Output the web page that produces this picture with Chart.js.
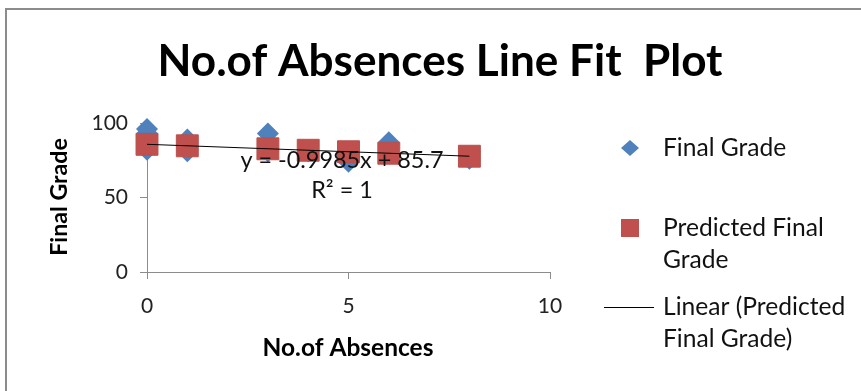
<!DOCTYPE html>
<html>
<head>
<meta charset="utf-8">
<script src="https://cdn.jsdelivr.net/npm/chart.js@4"></script>
<style>
  html, body { margin: 0; padding: 0; background: #fff; }
  #wrap { width: 861px; height: 391px; position: relative; }
</style>
</head>
<body>
<div id="wrap"><canvas id="fitPlot" width="861" height="391"></canvas></div>
<script>
  // 원본 데이터 (결석 횟수 / 최종 점수)
  const absences = [0, 0, 0, 1, 1, 3, 3, 4, 5, 6, 8];
  const finalGrades = [96, 93, 82, 89, 81, 93, 81, 81, 74, 87, 76];
  // 예측 점수
  const predAbsences = [0, 1, 3, 4, 5, 6, 8];
  const predGrades = [85.7, 84.7, 82.7, 81.7, 80.7, 79.7, 77.7];
  // 추세선 (y = slope * x + intercept)
  const slope = -0.9985;
  const intercept = 85.7;
  const trendRange = [0, 8];

  const xTicks = [0, 5, 10];
  const yTicks = [0, 50, 100];

  const FONT = 'Lato, "Open Sans", sans-serif';
  const BLUE = '#4F81BD';
  const RED = '#C0504D';

  // 글자 폭에 맞는 폰트 크기
  function fitFont(c, text, width, weight) {
    c.font = weight + ' 20px ' + FONT;
    const size = (20 * width) / c.measureText(text).width;
    c.font = weight + ' ' + size.toFixed(1) + 'px ' + FONT;
  }

  // ------------------ 제목 / 축 제목 / 범례 ------------------
  const decorPlugin = {
    id: 'decor',
    beforeDraw(chart) {
      const c = chart.ctx;
      c.save();
      c.fillStyle = '#fff';
      c.fillRect(0, 0, chart.width, chart.height);
      // 바깥 테두리
      c.strokeStyle = '#8c8c8c';
      c.lineWidth = 2;
      c.beginPath();
      c.moveTo(6, chart.height);
      c.lineTo(6, 9);
      c.lineTo(chart.width, 9);
      c.stroke();
      c.restore();
    },
    afterDraw(chart) {
      const c = chart.ctx;
      c.save();
      c.fillStyle = '#000';
      c.textAlign = 'center';
      c.textBaseline = 'middle';
      fitFont(c, 'No.of Absences Line Fit  Plot', 565, 'bold');
      c.fillText('No.of Absences Line Fit  Plot', 440, 62);

      fitFont(c, 'No.of Absences', 171, 'bold');
      c.fillText('No.of Absences', 348, 348);
      c.save();
      c.translate(60, 197);
      c.rotate(-Math.PI / 2);
      fitFont(c, 'Final Grade', 118, 'bold');
      c.fillText('Final Grade', 0, 0);
      c.restore();

      // 추세선 식
      c.fillStyle = '#111';
      fitFont(c, 'y = -0.9985x + 85.7', 203, 'normal');
      c.fillText('y = -0.9985x + 85.7', 342, 160);
      c.fillText('R² = 1', 342, 190);

      // 범례
      c.textAlign = 'left';
      fitFont(c, 'Linear (Predicted', 182, 'normal');
      c.fillText('Final Grade', 663, 148);
      c.fillText('Predicted Final', 663, 228);
      c.fillText('Grade', 663, 260);
      c.fillText('Linear (Predicted', 663, 307);
      c.fillText('Final Grade)', 663, 339);

      c.fillStyle = BLUE;
      c.beginPath();
      c.moveTo(630, 140); c.lineTo(639, 148); c.lineTo(630, 156); c.lineTo(621, 148);
      c.closePath();
      c.fill();

      c.fillStyle = RED;
      c.fillRect(621, 219, 18, 18);

      c.strokeStyle = '#000';
      c.lineWidth = 1;
      c.beginPath();
      c.moveTo(604, 307.5);
      c.lineTo(654, 307.5);
      c.stroke();
      c.restore();
    },
  };

  const ctx = document.getElementById('fitPlot');
  new Chart(ctx, {
    type: 'scatter',
    data: {
      datasets: [
        {
          label: 'Linear (Predicted Final Grade)',
          type: 'line',
          data: trendRange.map((x) => ({ x: x, y: slope * x + intercept })),
          borderColor: '#000',
          borderWidth: 1,
          pointRadius: 0,
          fill: false,
          clip: false,
          order: 0,
        },
        {
          label: 'Predicted Final Grade',
          data: predAbsences.map((x, i) => ({ x: x, y: predGrades[i] })),
          pointStyle: 'rect',
          pointRadius: 15.5,
          backgroundColor: RED,
          borderColor: '#b8504d',
          borderWidth: 1,
          clip: false,
          order: 1,
        },
        {
          label: 'Final Grade',
          data: absences.map((x, i) => ({ x: x, y: finalGrades[i] })),
          pointStyle: 'rectRot',
          pointRadius: 11,
          backgroundColor: BLUE,
          borderColor: BLUE,
          borderWidth: 0,
          clip: false,
          order: 2,
        },
      ],
    },
    options: {
      responsive: false,
      animation: false,
      events: [],
      plugins: {
        legend: { display: false },
        tooltip: { enabled: false },
      },
      layout: {
        padding: { left: 0, top: 123, right: 311, bottom: 391 - 272 - 50 },
      },
      scales: {
        x: {
          type: 'linear',
          min: 0,
          max: 10,
          afterBuildTicks: (s) => { s.ticks = xTicks.map((v) => ({ value: v })); },
          afterFit: (s) => { s.height = 50; },
          grid: { drawOnChartArea: false, drawTicks: true, tickLength: 7, color: '#8c8c8c' },
          border: { color: '#8c8c8c' },
          ticks: { color: '#222', padding: 15, font: { family: FONT, size: 21 } },
        },
        y: {
          min: 0,
          max: 100,
          afterBuildTicks: (s) => { s.ticks = yTicks.map((v) => ({ value: v })); },
          afterFit: (s) => { s.width = 147; },
          grid: { drawOnChartArea: false, drawTicks: true, tickLength: 7, color: '#8c8c8c' },
          border: { color: '#8c8c8c' },
          ticks: { color: '#222', padding: 12, font: { family: FONT, size: 21 } },
        },
      },
    },
    plugins: [decorPlugin],
  });
</script>
</body>
</html>
